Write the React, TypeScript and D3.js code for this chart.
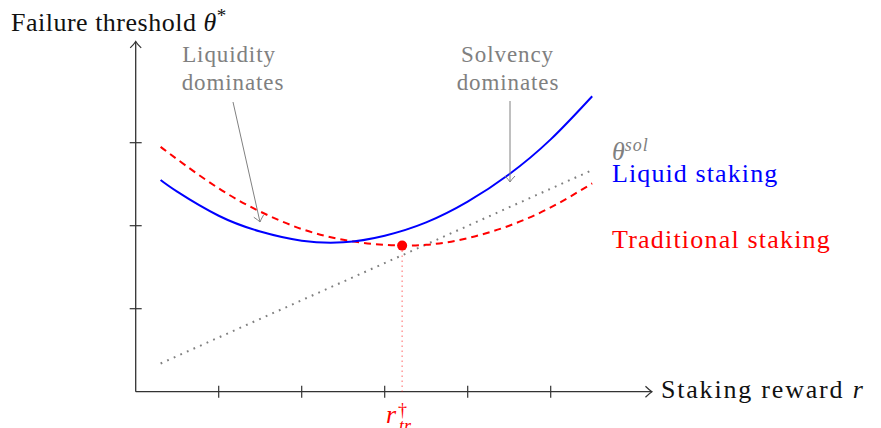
import React from "react";
import * as d3 from "d3";

// Staking reward grid (r) and the two failure-threshold curves sampled on it
const rewardGrid = [0.3, 0.5, 1, 1.5, 2, 2.5, 3, 3.5, 4, 4.5, 5, 5.5];
const liquidStaking = [2.55, 2.41, 2.12, 1.93, 1.82, 1.8, 1.88, 2.04, 2.29, 2.62, 3.04, 3.56];
const traditionalStaking = [2.95, 2.8, 2.45, 2.17, 1.96, 1.83, 1.77, 1.77, 1.85, 2.0, 2.22, 2.51];

// Solvency threshold line (end points)
const solvencyReward = [0.3, 5.5];
const solvencyThreshold = [0.34, 2.67];

// Optimal traditional staking reward r†_tr
const optimumReward = [3.21];
const optimumThreshold = [1.76];

const xTicks = [1, 2, 3, 4, 5];
const yTicks = [1, 2, 3];
const xAxisMax = 6.22;
const yAxisMax = 4.22;

const FONT = "Liberation Serif";
const BLUE = "#0000ff";
const RED = "#ff0000";
const GRAY = "#808080";
const AXIS = "#333333";

// TikZ-style "->" arrow tip with slightly curved barbs
function tip(xt: number, yt: number, angle: number, len = 6.5, half = 5.5) {
  const c = Math.cos(angle);
  const s = Math.sin(angle);
  const pt = (back: number, side: number) => [xt - back * c - side * s, yt - back * s + side * c];
  const [ax, ay] = pt(len, -half);
  const [bx, by] = pt(len, half);
  const [cax, cay] = pt(len * 0.35, -half * 0.25);
  const [cbx, cby] = pt(len * 0.35, half * 0.25);
  return `M${ax},${ay} Q${cax},${cay} ${xt},${yt} Q${cbx},${cby} ${bx},${by}`;
}

type TProps = {
  x: number;
  y: number;
  size: number;
  fill: string;
  anchor?: string;
  spacing?: number;
  italic?: boolean;
  children: React.ReactNode;
};

function T({ x, y, size, fill, anchor = "start", spacing = 0, italic = false, children }: TProps) {
  return (
    <text
      x={x}
      y={y}
      fill={fill}
      textAnchor={anchor}
      style={{
        fontFamily: FONT,
        fontSize: size,
        letterSpacing: spacing,
        fontStyle: italic ? "italic" : "normal",
      }}
    >
      {children}
    </text>
  );
}

export default function App() {
  const x = d3.scaleLinear().domain([0, 1]).range([135.7, 218.7]);
  const y = d3.scaleLinear().domain([0, 1]).range([391.7, 308.7]);

  const curve = d3
    .line<number>()
    .x((_, i) => x(rewardGrid[i]))
    .y((d) => y(d))
    .curve(d3.curveNatural);

  const solLine = d3
    .line<number>()
    .x((_, i) => x(solvencyReward[i]))
    .y((d) => y(d));

  const x0 = x(0);
  const y0 = y(0);
  const xEnd = x(xAxisMax);
  const yEnd = y(yAxisMax);

  const ox = x(optimumReward[0]);
  const oy = y(optimumThreshold[0]);

  // annotation arrows (pixel anchors below the text blocks)
  const liqFrom = [233, 102];
  const liqTo = [260, 222];
  const solFrom = [510, 101];
  const solTo = [510, 182];
  const liqAngle = Math.atan2(liqTo[1] - liqFrom[1], liqTo[0] - liqFrom[0]);

  return (
    <svg width={881} height={428} style={{ position: "absolute", left: 0, top: 0, background: "#fff" }}>
      {/* axes */}
      <line x1={x0} y1={y0} x2={xEnd} y2={y0} stroke={AXIS} strokeWidth={1.3} />
      <line x1={x0} y1={y0} x2={x0} y2={yEnd} stroke={AXIS} strokeWidth={1.3} />
      <path d={tip(xEnd, y0, 0)} fill="none" stroke={AXIS} strokeWidth={1.2} />
      <path d={tip(x0, yEnd, -Math.PI / 2)} fill="none" stroke={AXIS} strokeWidth={1.2} />
      {xTicks.map((t) => (
        <line key={"xt" + t} x1={x(t)} x2={x(t)} y1={y0 - 6} y2={y0 + 6} stroke={AXIS} strokeWidth={1.2} />
      ))}
      {yTicks.map((t) => (
        <line key={"yt" + t} x1={x0 - 6} x2={x0 + 6} y1={y(t)} y2={y(t)} stroke={AXIS} strokeWidth={1.2} />
      ))}

      {/* solvency threshold */}
      <path d={solLine(solvencyThreshold) || ""} fill="none" stroke={GRAY} strokeWidth={2} strokeDasharray="1.8,5.4" />

      {/* optimum drop line */}
      <line x1={ox} x2={ox} y1={oy} y2={y0} stroke={RED} strokeOpacity={0.5} strokeWidth={1.2} strokeDasharray="1.3,3.7" />

      {/* curves */}
      <path d={curve(traditionalStaking) || ""} fill="none" stroke={RED} strokeWidth={2} strokeDasharray="7,5" />
      <path d={curve(liquidStaking) || ""} fill="none" stroke={BLUE} strokeWidth={2} />

      <circle cx={ox} cy={oy} r={5} fill={RED} />

      {/* annotation arrows */}
      <line x1={liqFrom[0]} y1={liqFrom[1]} x2={liqTo[0]} y2={liqTo[1]} stroke={GRAY} strokeWidth={1} />
      <path d={tip(liqTo[0], liqTo[1], liqAngle, 6, 5)} fill="none" stroke={GRAY} strokeWidth={1} />
      <line x1={solFrom[0]} y1={solFrom[1]} x2={solTo[0]} y2={solTo[1]} stroke={GRAY} strokeWidth={1} />
      <path d={tip(solTo[0], solTo[1], Math.PI / 2, 6, 5)} fill="none" stroke={GRAY} strokeWidth={1} />

      {/* annotation text */}
      <T x={229} y={62} size={23} fill={GRAY} anchor="middle" spacing={0.9}>Liquidity</T>
      <T x={233} y={90} size={23} fill={GRAY} anchor="middle" spacing={0.9}>dominates</T>
      <T x={507.5} y={62} size={23} fill={GRAY} anchor="middle" spacing={0.9}>Solvency</T>
      <T x={508} y={90} size={23} fill={GRAY} anchor="middle" spacing={0.9}>dominates</T>

      {/* axis titles */}
      <T x={11} y={31} size={26} fill="#111" spacing={0.5}>
        Failure threshold <tspan fontStyle="italic">θ</tspan>
        <tspan fontSize={19} dy={-9}>*</tspan>
      </T>
      <T x={661} y={398} size={26} fill="#111" spacing={1.8}>
        Staking reward <tspan fontStyle="italic">r</tspan>
      </T>

      {/* series labels */}
      <T x={612} y={160} size={26} fill={GRAY} italic>
        θ
        <tspan fontSize={18} dy={-9} letterSpacing={1}>sol</tspan>
      </T>
      <T x={612} y={182} size={26} fill={BLUE} spacing={1.1}>Liquid staking</T>
      <T x={612} y={248} size={26} fill={RED} spacing={1.2}>Traditional staking</T>

      {/* optimum label r†_tr */}
      <T x={386} y={423} size={26} fill={RED} italic>r</T>
      <T x={398} y={416} size={18} fill={RED}>†</T>
      <T x={399} y={432} size={18} fill={RED} italic>tr</T>
    </svg>
  );
}
